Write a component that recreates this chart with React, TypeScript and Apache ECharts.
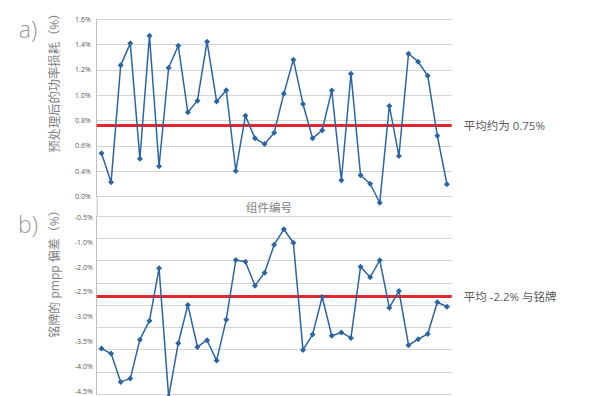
import React, { useEffect, useRef } from "react";
import * as echarts from "echarts";

const modules: string[] = Array.from({ length: 37 }, (_, i) => String(i + 1));

const powerLoss: number[] = [
  0.541, 0.311, 1.236, 1.41, 0.498, 1.47, 0.438, 1.217, 1.391, 0.865, 0.957, 1.423, 0.95,
  1.039, 0.401, 0.838, 0.659, 0.614, 0.704, 1.012, 1.281, 0.93, 0.659, 0.723, 1.037, 0.328,
  1.17, 0.367, 0.3, 0.15, 0.915, 0.519, 1.328, 1.265, 1.154, 0.68, 0.296,
];

const pmppDev: number[] = [
  -3.475, -3.587, -4.222, -4.148, -3.274, -2.848, -1.673, -4.558, -3.354, -2.496, -3.437,
  -3.287, -3.744, -2.825, -1.487, -1.525, -2.063, -1.771, -1.143, -0.798, -1.099, -3.504,
  -3.161, -2.316, -3.186, -3.112, -3.235, -1.637, -1.874, -1.493, -2.556, -2.182, -3.399,
  -3.265, -3.146, -2.435, -2.534,
];

const topMeanLine = 0.758;
const bottomMeanLine = -2.309;
const topMeanLabel = "平均约为 0.75%";
const bottomMeanLabel = "平均 -2.2% 与铭牌";

const bottomTickLabels: string[] = ["-4.5%", "-4.0%", "-3.5%", "-3.0%", "-2.5%", "-2.0%", "-1.0%", "-0.5%"];

const topAxisName = "预处理后的功率损耗（%）";
const bottomAxisName = "铭牌的 pmpp 偏差（%）";
const xAxisName = "组件编号";

const FONT = '"Open Sans", "Noto Sans CJK SC", sans-serif';
const LINE_COLOR = "#2b65a3";
const RED = "#e3262b";
const GRID_COLOR = "#d4d4d4";
const LABEL_COLOR = "#595959";

export default function App() {
  const ref = useRef<HTMLDivElement>(null);
  useEffect(() => {
    if (!ref.current) return;
    const chart = echarts.init(ref.current, undefined, { renderer: "svg" });
    const gridLeft = 96.7;
    const gridRight = 600 - 451.7;
    const option: any = {
      animation: false,
      backgroundColor: "#ffffff",
      textStyle: { fontFamily: FONT },
      grid: [
        { left: gridLeft, right: gridRight, top: 19.3, height: 177.1 },
        { left: gridLeft, right: gridRight, top: 216, height: 178.3 },
        { left: gridLeft, right: gridRight, top: 217.7, height: 173.3 },
      ],
      xAxis: [
        {
          type: "category", gridIndex: 0, data: modules, boundaryGap: true,
          axisLine: { show: false }, axisTick: { show: false }, axisLabel: { show: false },
        },
        {
          type: "category", gridIndex: 1, data: modules, boundaryGap: true,
          axisLine: { show: false }, axisTick: { show: false }, axisLabel: { show: false },
        },
        {
          type: "category", gridIndex: 2, data: modules, show: false,
        },
      ],
      yAxis: [
        {
          type: "value", gridIndex: 0, min: 0.2, max: 1.6, interval: 0.2,
          axisLine: { show: true, lineStyle: { color: "#bfbfbf", width: 1 } },
          axisTick: { show: false },
          splitLine: { show: true, lineStyle: { color: GRID_COLOR, width: 1 } },
          axisLabel: {
            fontSize: 7, color: LABEL_COLOR, margin: 6, fontFamily: FONT,
            formatter: (v: number) => (v < 0.3 ? "0.0%" : v.toFixed(1) + "%"),
          },
        },
        {
          type: "value", gridIndex: 1, min: -4.5, max: -0.5, interval: 0.5,
          axisLine: { show: true, lineStyle: { color: "#bfbfbf", width: 1 } },
          axisTick: { show: false },
          splitLine: { show: true, lineStyle: { color: GRID_COLOR, width: 1 } },
          axisLabel: { show: false },
        },
        {
          type: "category", gridIndex: 2, data: bottomTickLabels, boundaryGap: false,
          axisLine: { show: false }, axisTick: { show: false }, splitLine: { show: false },
          axisLabel: { fontSize: 7, color: LABEL_COLOR, margin: 4, fontFamily: FONT },
        },
      ],
      series: [
        {
          type: "line", xAxisIndex: 0, yAxisIndex: 0, data: powerLoss, clip: false,
          symbol: "diamond", symbolSize: 6, showSymbol: true,
          lineStyle: { color: LINE_COLOR, width: 1.5 },
          itemStyle: { color: LINE_COLOR },
          z: 3,
          markLine: {
            silent: true, symbol: "none", z: 2,
            lineStyle: { color: RED, width: 3, type: "solid" },
            label: {
              show: true, position: "end", distance: 12, formatter: topMeanLabel,
              fontSize: 11.5, color: LABEL_COLOR, fontFamily: FONT,
            },
            data: [{ yAxis: topMeanLine }],
          },
        },
        {
          type: "line", xAxisIndex: 1, yAxisIndex: 1, data: pmppDev, clip: false,
          symbol: "diamond", symbolSize: 6, showSymbol: true,
          lineStyle: { color: LINE_COLOR, width: 1.5 },
          itemStyle: { color: LINE_COLOR },
          z: 3,
          markLine: {
            silent: true, symbol: "none", z: 2,
            lineStyle: { color: RED, width: 3, type: "solid" },
            label: {
              show: true, position: "end", distance: 12, formatter: bottomMeanLabel,
              fontSize: 11.5, color: LABEL_COLOR, fontFamily: FONT,
            },
            data: [{ yAxis: bottomMeanLine }],
          },
        },
      ],
      graphic: [
        {
          type: "line", silent: true, z: 0,
          shape: { x1: gridLeft + 0.5, y1: 196, x2: gridLeft + 0.5, y2: 216 },
          style: { stroke: "#bfbfbf", lineWidth: 1 },
        },
        {
          type: "text", x: 28, y: 29,
          style: { text: "a)", fontSize: 23, fill: "#999999", fontFamily: FONT, fontWeight: 300, align: "center", verticalAlign: "middle" },
        },
        {
          type: "text", x: 28, y: 224,
          style: { text: "b)", fontSize: 23, fill: "#999999", fontFamily: FONT, fontWeight: 300, align: "center", verticalAlign: "middle" },
        },
        {
          type: "text", x: 54, y: 80, rotation: Math.PI / 2,
          style: { text: topAxisName, fontSize: 12.3, fill: "#7f7f7f", fontFamily: FONT, align: "center", verticalAlign: "middle" },
        },
        {
          type: "text", x: 54, y: 271, rotation: Math.PI / 2,
          style: { text: bottomAxisName, fontSize: 12, fill: "#7f7f7f", fontFamily: FONT, align: "center", verticalAlign: "middle" },
        },
        {
          type: "text", x: 269, y: 207.5,
          style: { text: xAxisName, fontSize: 11.5, fill: "#7f7f7f", fontFamily: FONT, align: "center", verticalAlign: "middle" },
        },
      ],
    };
    chart.setOption(option);
    return () => chart.dispose();
  }, []);
  return <div ref={ref} style={{ width: 600, height: 396, position: "fixed", left: 0, top: 0 }} />;
}
